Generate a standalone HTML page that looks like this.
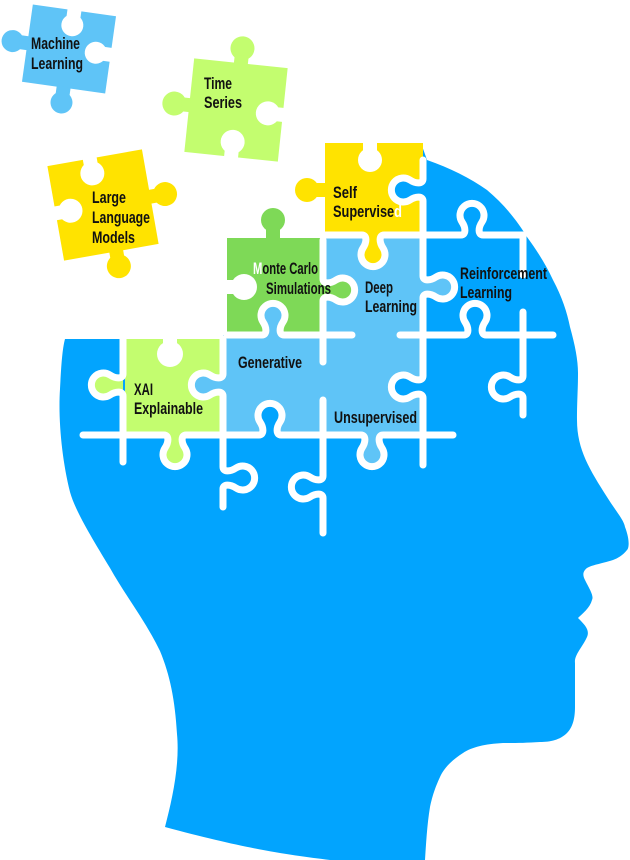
<!DOCTYPE html>
<html><head><meta charset="utf-8"><style>
html,body{margin:0;padding:0;background:#fff;}
svg{display:block;}
text{font-family:"Liberation Sans Narrow","Liberation Sans",sans-serif;font-weight:bold;font-size:17px;fill:#111;}
</style></head><body>
<svg width="630" height="860" viewBox="0 0 630 860" xmlns="http://www.w3.org/2000/svg">
<path fill="#02a4fe" d="M65,339 H227 V238 H325 V143 H421 L427,160 C450,168 470,178 487,190 C505,205 518,222 527,237 C538,252 546,265 553,280 C562,297 567,312 570,327 C575,345 578,360 578,373 C578,390 577,400 577,420 C577,450 590,470 607,497 C615,510 624,520 625,527 C630,540 629,548 627,550 C622,556 618,558 613,560 C600,564 592,565 587,568 C582,572 583,576 585,580 C590,590 594,596 592,600 C590,608 582,614 578,618 C585,625 590,630 587,637 C582,648 574,655 575,663 L575,707 C575,720 572,728 567,733 C560,740 550,742 540,742 C525,743 515,743 503,743 C485,744 472,747 463,753 C452,760 444,768 440,777 C434,790 432,798 430,807 C427,825 426,845 425,860 L330,860 C290,855 250,850 165,827 C172,800 180,765 177,734 C175,700 170,675 160,651 C145,620 125,595 110,568 C90,535 75,510 70,492 C62,460 58,420 60,389 C61,370 62,350 65,339 Z"/>
<rect x="125" y="339" width="98" height="96" fill="#c3fd6f"/>
<rect x="223" y="335" width="200" height="100" fill="#5fc4f7"/>
<rect x="323" y="235" width="100" height="100" fill="#5fc4f7"/>
<rect x="227" y="238" width="96" height="97" fill="#7ed957"/>
<rect x="325" y="143" width="98" height="92" fill="#ffe300"/>
<circle cx="103.4" cy="385" r="12" fill="#c3fd6f"/><rect x="108" y="378" width="15" height="14" fill="#c3fd6f"/>
<circle cx="175" cy="454.6" r="12" fill="#c3fd6f"/><rect x="168" y="435" width="14" height="15" fill="#c3fd6f"/>
<circle cx="203.4" cy="385" r="12" fill="#5fc4f7"/><rect x="208" y="378" width="15" height="14" fill="#5fc4f7"/>
<circle cx="273" cy="315.4" r="12" fill="#5fc4f7"/><rect x="266" y="320" width="14" height="15" fill="#5fc4f7"/>
<circle cx="342.6" cy="290" r="12" fill="#7ed957"/><rect x="323" y="283" width="15" height="14" fill="#7ed957"/>
<circle cx="373" cy="254.6" r="12" fill="#ffe300"/><rect x="366" y="235" width="14" height="15" fill="#ffe300"/>
<circle cx="442.6" cy="287" r="12" fill="#5fc4f7"/><rect x="423" y="280" width="15" height="14" fill="#5fc4f7"/>
<circle cx="403.4" cy="190" r="12" fill="#02a4fe"/><rect x="408" y="183" width="15" height="14" fill="#02a4fe"/>
<circle cx="270" cy="415.4" r="12" fill="#02a4fe"/><rect x="263" y="420" width="14" height="15" fill="#02a4fe"/>
<circle cx="403.4" cy="387" r="12" fill="#02a4fe"/><rect x="408" y="380" width="15" height="14" fill="#02a4fe"/>
<circle cx="372" cy="454.6" r="12" fill="#5fc4f7"/><rect x="365" y="435" width="14" height="15" fill="#5fc4f7"/>
<circle cx="273" cy="220" r="12" fill="#7ed957"/><rect x="266" y="226" width="14" height="13" fill="#7ed957"/>
<circle cx="307" cy="190" r="12" fill="#ffe300"/><rect x="312" y="183" width="14" height="14" fill="#ffe300"/>
<circle cx="170" cy="354" r="13" fill="#fff"/><rect x="163" y="337" width="14" height="12" fill="#fff"/>
<circle cx="244" cy="287" r="13" fill="#fff"/><rect x="225" y="280" width="14" height="14" fill="#fff"/>
<circle cx="370" cy="160" r="12" fill="#fff"/><rect x="363" y="141" width="14" height="14" fill="#fff"/>
<g fill="none" stroke="#fff" stroke-width="7" stroke-linecap="round" stroke-linejoin="round">
<path d="M83,435 H164 c5,0 5,7 1,13 a12,12 0 1 0 20,0 c-4,-6 -4,-13 1,-13 H259 c5,0 5,-7 1,-13 a12,12 0 1 1 20,0 c-4,6 -4,13 1,13 H361 c5,0 5,7 1,13 a12,12 0 1 0 20,0 c-4,-6 -4,-13 1,-13 H453"/>
<path d="M227,335 H262 c5,0 5,-7 1,-13 a12,12 0 1 1 20,0 c-4,6 -4,13 1,13 H352"/>
<path d="M400,335 H464 c5,0 5,-7 1,-13 a12,12 0 1 1 20,0 c-4,6 -4,13 1,13 H553"/>
<path d="M325,235 H362 c5,0 5,7 1,13 a12,12 0 1 0 20,0 c-4,-6 -4,-13 1,-13 H461 c5,0 5,-7 1,-13 a12,12 0 1 1 20,0 c-4,6 -4,13 1,13 H523 V275"/>
<path d="M123,339 V374 c0,5 -7,5 -13,1 a12,12 0 1 0 0,20 c6,-4 13,-4 13,1 V462"/>
<path d="M223,339 V374 c0,5 -7,5 -13,1 a12,12 0 1 0 0,20 c6,-4 13,-4 13,1 V467 c0,5 7,5 13,1 a12,12 0 1 1 0,20 c-6,-4 -13,-4 -13,1 V507"/>
<path d="M323,240 V279 c0,5 7,5 13,1 a12,12 0 1 1 0,20 c-6,-4 -13,-4 -13,1 V362"/>
<path d="M323,400 V476 c0,5 -7,5 -13,1 a12,12 0 1 0 0,20 c6,-4 13,-4 13,1 V533"/>
<path d="M423,160 V179 c0,5 -7,5 -13,1 a12,12 0 1 0 0,20 c6,-4 13,-4 13,1 V276 c0,5 7,5 13,1 a12,12 0 1 1 0,20 c-6,-4 -13,-4 -13,1 V376 c0,5 -7,5 -13,1 a12,12 0 1 0 0,20 c6,-4 13,-4 13,1 V465"/>
<path d="M523,312 V376 c0,5 -7,5 -13,1 a12,12 0 1 0 0,20 c6,-4 13,-4 13,1 V415"/>
</g>
<g transform="translate(69,49) rotate(8)" fill="#5fc4f7">
<rect x="-42" y="-39" width="84" height="78"/>
<circle cx="-57" cy="0" r="11"/><rect x="-50" y="-7" width="9" height="14"/>
<circle cx="0" cy="54" r="11"/><rect x="-7" y="38" width="14" height="9"/>
<circle cx="0" cy="-24" r="11" fill="#fff"/><rect x="-7" y="-40" width="14" height="10" fill="#fff"/>
<circle cx="27" cy="0" r="11" fill="#fff"/><rect x="33" y="-7" width="10" height="14" fill="#fff"/>
</g>
<g transform="translate(236,110) rotate(6)" fill="#c3fd6f">
<rect x="-47" y="-47" width="94" height="94"/>
<circle cx="0" cy="-62" r="12"/><rect x="-7" y="-55" width="14" height="9"/>
<circle cx="-62" cy="0" r="12"/><rect x="-55" y="-7" width="9" height="14"/>
<circle cx="32" cy="0" r="12" fill="#fff"/><rect x="38" y="-7" width="10" height="14" fill="#fff"/>
<circle cx="0" cy="32" r="12" fill="#fff"/><rect x="-7" y="38" width="14" height="10" fill="#fff"/>
</g>
<g transform="translate(103,205) rotate(-10)" fill="#ffe300">
<rect x="-48" y="-48" width="96" height="96"/>
<circle cx="-5" cy="-33" r="12" fill="#fff"/><rect x="-12" y="-49" width="14" height="10" fill="#fff"/>
<circle cx="63" cy="0" r="12"/><rect x="47" y="-7" width="9" height="14"/>
<circle cx="5" cy="63" r="12"/><rect x="-2" y="47" width="14" height="9"/>
<circle cx="-33" cy="0" r="12" fill="#fff"/><rect x="-49" y="-7" width="10" height="14" fill="#fff"/>
</g>
<text x="31" y="49" textLength="49" lengthAdjust="spacingAndGlyphs">Machine</text><text x="31" y="69" textLength="52" lengthAdjust="spacingAndGlyphs">Learning</text>
<text x="204" y="89" textLength="28" lengthAdjust="spacingAndGlyphs">Time</text><text x="204" y="108" textLength="38" lengthAdjust="spacingAndGlyphs">Series</text>
<text x="92" y="203" textLength="34" lengthAdjust="spacingAndGlyphs">Large</text><text x="92" y="223" textLength="58" lengthAdjust="spacingAndGlyphs">Language</text><text x="92" y="243" textLength="43" lengthAdjust="spacingAndGlyphs">Models</text>
<text x="333" y="198" textLength="24" lengthAdjust="spacingAndGlyphs">Self</text><text x="333" y="217" textLength="69" lengthAdjust="spacingAndGlyphs">Supervise<tspan style="fill:#fff">d</tspan></text>
<text x="253" y="274" textLength="65" lengthAdjust="spacingAndGlyphs"><tspan style="fill:#fff">M</tspan>onte Carlo</text><text x="266" y="294" textLength="65" lengthAdjust="spacingAndGlyphs">Simulations</text>
<text x="365" y="293" textLength="28" lengthAdjust="spacingAndGlyphs">Deep</text><text x="365" y="312" textLength="52" lengthAdjust="spacingAndGlyphs">Learning</text>
<text x="460" y="279" textLength="87" lengthAdjust="spacingAndGlyphs">Reinforcement</text><text x="460" y="298" textLength="52" lengthAdjust="spacingAndGlyphs">Learning</text>
<text x="238" y="368" textLength="64" lengthAdjust="spacingAndGlyphs">Generative</text>
<text x="134" y="395" textLength="19" lengthAdjust="spacingAndGlyphs">XAI</text><text x="134" y="414" textLength="69" lengthAdjust="spacingAndGlyphs">Explainable</text>
<text x="334" y="423" textLength="83" lengthAdjust="spacingAndGlyphs">Unsupervised</text>
</svg>
</body></html>
